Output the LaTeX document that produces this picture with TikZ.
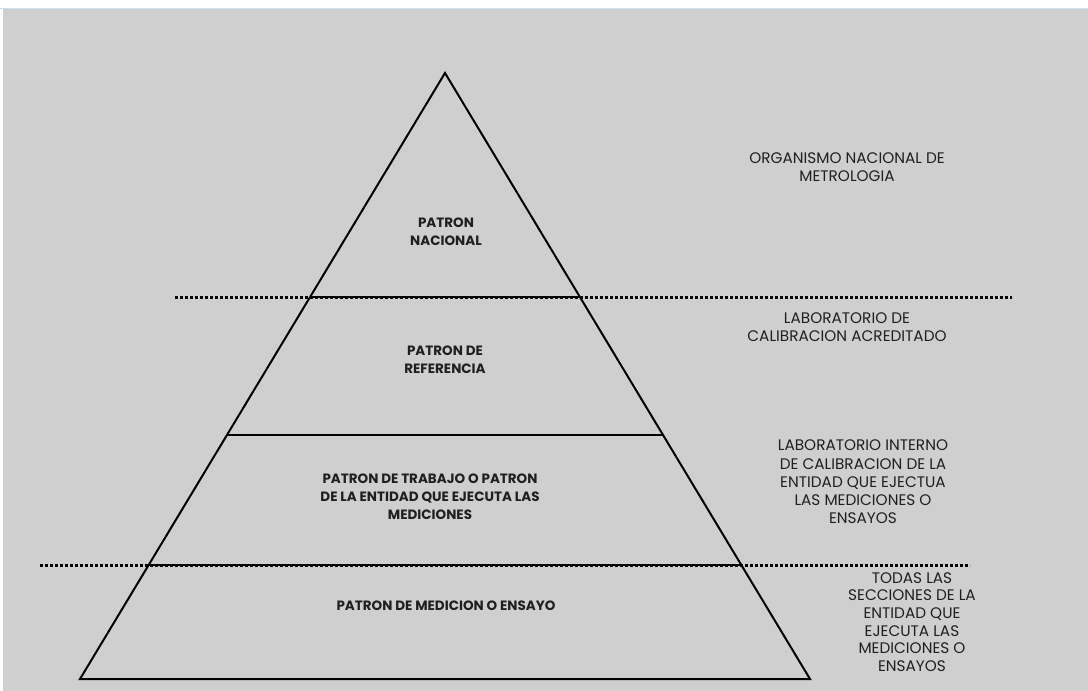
\documentclass[tikz,border=0pt]{standalone}
\usepackage{fontspec}
\setmainfont{Poppins}
\definecolor{bggray}{RGB}{207,207,207}
\definecolor{topblue}{RGB}{200,226,242}
\begin{document}
\begin{tikzpicture}[x=1pt,y=-1pt,
  edge/.style={line width=2pt,black},
  dotline/.style={line width=3pt,black,dash pattern=on 3pt off 2pt},
  inlabel/.style={font=\fontsize{13.5}{18}\selectfont\bfseries,align=center,text=black!88},
  sidelabel/.style={font=\fontsize{15.3}{18.2}\selectfont,align=center,text=black!88}]
\useasboundingbox (0,0) rectangle (1088,691);
\fill[white] (0,0) rectangle (1088,691);
\fill[bggray] (3,9) rectangle (1088,691);
\draw[topblue,line width=1.2pt] (0,8.4) -- (1088,8.4);
% triangle
\coordinate (apex) at (445,73);
\coordinate (bl) at (80,679);
\coordinate (br) at (810,679);
\coordinate (l1) at (310,297);
\coordinate (r1) at (580,297);
\coordinate (l2) at (227,435);
\coordinate (r2) at (663,435);
\coordinate (l3) at (149,565);
\coordinate (r3) at (741,565);
\coordinate (d1a) at (175,297);
\coordinate (d1b) at (1012,297);
\coordinate (d3a) at (40,565);
\coordinate (d3b) at (970,565);
\draw[dotline] (d1a) -- (d1b);
\draw[dotline] (d3a) -- (d3b);
\draw[edge,line join=miter] (apex) -- (br) -- (bl) -- cycle;
\draw[edge] (l1) -- (r1);
\draw[edge] (l2) -- (r2);
\draw[edge] (l3) -- (r3);
% labels inside
\node[inlabel] (n1) at (446,232) {PATRON\\NACIONAL};
\node[inlabel] (n2) at (445,360) {PATRON DE\\REFERENCIA};
\node[inlabel] (n3) at (430,497) {PATRON DE TRABAJO O PATRON\\DE LA ENTIDAD QUE EJECUTA LAS\\MEDICIONES};
\node[inlabel] (n4) at (446,606) {PATRON DE MEDICION O ENSAYO};
% side labels
\node[sidelabel] (s1) at (847,167) {ORGANISMO NACIONAL DE\\METROLOGIA};
\node[sidelabel] (s2) at (847,327) {LABORATORIO DE\\CALIBRACION ACREDITADO};
\node[sidelabel] (s3) at (863,482) {LABORATORIO INTERNO\\DE CALIBRACION DE LA\\ENTIDAD QUE EJECTUA\\LAS MEDICIONES O\\ENSAYOS};
\node[sidelabel,font=\fontsize{15.3}{17.6}\selectfont] (s4) at (912,622) {TODAS LAS\\SECCIONES DE LA\\ENTIDAD QUE\\EJECUTA LAS\\MEDICIONES O\\ENSAYOS};
\end{tikzpicture}
\end{document}
